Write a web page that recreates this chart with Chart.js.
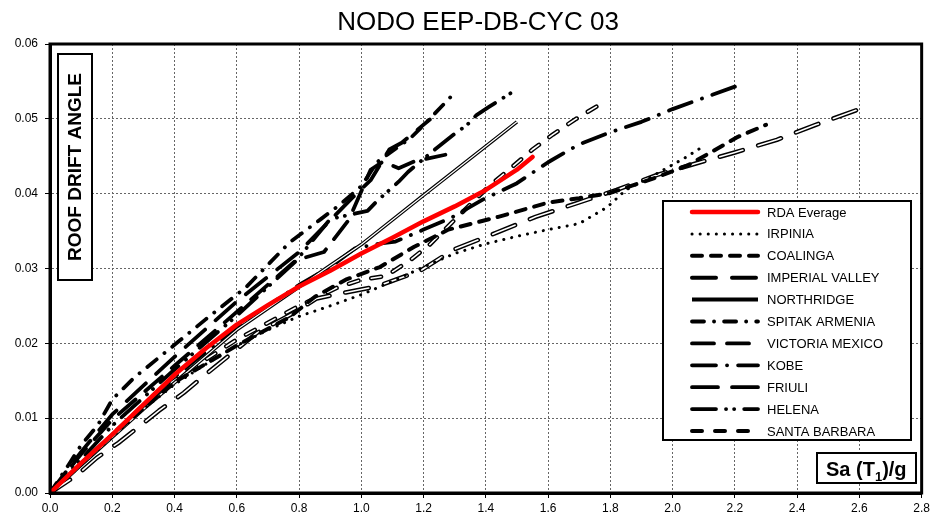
<!DOCTYPE html>
<html>
<head>
<meta charset="utf-8">
<script src="https://cdn.jsdelivr.net/npm/chart.js@4.4.1/dist/chart.umd.min.js"></script>
<style>
  html, body { margin: 0; padding: 0; background: #fff; }
  #wrap { width: 933px; height: 515px; }
</style>
</head>
<body>
<div id="wrap"><canvas id="chart" width="933" height="515"></canvas></div>
<script>
// Sa(T1)/g on x, roof drift angle on y, one pair of arrays per record
const seriesNames = ['RDA Everage', 'IRPINIA', 'COALINGA', 'IMPERIAL VALLEY', 'NORTHRIDGE',
    'SPITAK ARMENIA', 'VICTORIA MEXICO', 'KOBE', 'FRIULI', 'HELENA', 'SANTA BARBARA'];

const rdaX = [0, 0.1, 0.2, 0.3, 0.4, 0.5, 0.6, 0.7, 0.8, 0.9, 1.0, 1.1, 1.2, 1.3, 1.4, 1.5, 1.55];
const rdaY = [0, 0.004, 0.0078, 0.0118, 0.0158, 0.0193, 0.0225, 0.0251, 0.0276, 0.0297, 0.032, 0.0341, 0.0363, 0.0383, 0.0405, 0.0432, 0.0449];

const irpiniaX = [0, 0.1, 0.2, 0.3, 0.4, 0.5, 0.6, 0.7, 0.8, 0.9, 1.0, 1.1, 1.2, 1.3, 1.4, 1.5, 1.6, 1.7, 1.79, 1.85, 1.92, 1.98, 2.04, 2.09];
const irpiniaY = [0, 0.0038, 0.0075, 0.0112, 0.0145, 0.0172, 0.0197, 0.0218, 0.0236, 0.025, 0.0265, 0.0283, 0.0302, 0.032, 0.0333, 0.0343, 0.0352, 0.036, 0.0382, 0.0405, 0.042, 0.0434, 0.0448, 0.0461];

const coalingaX = [0, 0.2, 0.4, 0.6, 0.77, 0.85, 0.95, 1.06, 1.17, 1.28, 1.44, 1.6, 1.7, 1.8, 1.95, 2.05, 2.21, 2.3];
const coalingaY = [0, 0.0078, 0.0148, 0.0197, 0.0235, 0.0262, 0.0285, 0.0302, 0.0329, 0.0352, 0.0369, 0.0388, 0.0394, 0.0401, 0.0422, 0.0438, 0.0476, 0.0492];

const imperialX = [0, 0.087, 0.15, 0.22, 0.29, 0.35, 0.43, 0.49, 0.57, 0.665, 0.78, 0.857, 0.95, 1.05, 1.19, 1.295, 1.435, 1.56, 1.69, 1.82, 1.95, 2.08, 2.2, 2.335, 2.46, 2.6];
const imperialY = [0, 0.0024, 0.0047, 0.0067, 0.009, 0.011, 0.0134, 0.0155, 0.0182, 0.0214, 0.024, 0.026, 0.0268, 0.0276, 0.0297, 0.0325, 0.0348, 0.0369, 0.0387, 0.0405, 0.0425, 0.0441, 0.0455, 0.0472, 0.0492, 0.0513];

const northridgeX = [0, 0.3, 0.6, 0.9, 1.0, 1.2, 1.5];
const northridgeY = [0, 0.0112, 0.0218, 0.0304, 0.0332, 0.0398, 0.0496];

const spitakX = [0, 0.065, 0.1, 0.154, 0.2, 0.27, 0.4, 0.5, 0.63, 0.77, 0.87, 0.93, 1.0, 1.05, 1.16, 1.22, 1.3];
const spitakY = [0, 0.0041, 0.0064, 0.0091, 0.0125, 0.0154, 0.0198, 0.0232, 0.0275, 0.0335, 0.0366, 0.0385, 0.041, 0.0442, 0.0475, 0.05, 0.0535];

const victoriaX = [0, 0.1, 0.2, 0.4, 0.6, 0.79, 0.88, 0.96, 1.03, 1.07, 1.12, 1.17, 1.27];
const victoriaY = [0, 0.0052, 0.0098, 0.017, 0.0242, 0.0311, 0.0322, 0.0365, 0.0432, 0.0443, 0.0434, 0.0443, 0.0452];

const kobeX = [0, 0.2, 0.4, 0.6, 0.8, 0.9, 0.98, 1.07, 1.11, 1.2, 1.29, 1.39, 1.5, 1.6, 1.7, 1.8, 1.9, 2.0, 2.1, 2.2];
const kobeY = [0, 0.0078, 0.0155, 0.0222, 0.0278, 0.0302, 0.0327, 0.0334, 0.0336, 0.0352, 0.0368, 0.0392, 0.0414, 0.0442, 0.0466, 0.0482, 0.0496, 0.0513, 0.0528, 0.0543];

const friuliX = [0, 0.1, 0.2, 0.4, 0.6, 0.8, 0.97, 1.03, 1.09, 1.13, 1.22];
const friuliY = [0, 0.0055, 0.0105, 0.0182, 0.0256, 0.0322, 0.0394, 0.0418, 0.0459, 0.0468, 0.0499];

const helenaX = [0, 0.1, 0.2, 0.4, 0.6, 0.79, 0.9, 1.02, 1.05, 1.12, 1.15, 1.23, 1.3, 1.34, 1.37, 1.41, 1.49];
const helenaY = [0, 0.0045, 0.009, 0.0165, 0.0237, 0.031, 0.0366, 0.0377, 0.039, 0.0416, 0.0429, 0.0457, 0.048, 0.0492, 0.0505, 0.0516, 0.0537];

const santaBarbaraX = [0, 0.15, 0.34, 0.44, 0.6, 0.8, 0.92, 1.0, 1.08, 1.16, 1.22, 1.29, 1.41, 1.48, 1.55, 1.615, 1.686, 1.77];
const santaBarbaraY = [0, 0.0058, 0.0133, 0.0162, 0.0205, 0.025, 0.0274, 0.0285, 0.029, 0.0312, 0.0332, 0.0361, 0.041, 0.0434, 0.0459, 0.0479, 0.0499, 0.052];

const xTicks = [0, 2.8, 0.2];     // min, max, step
const yTicks = [0, 0.06, 0.01];

const seriesX = [rdaX, irpiniaX, coalingaX, imperialX, northridgeX, spitakX, victoriaX, kobeX, friuliX, helenaX, santaBarbaraX];
const seriesY = [rdaY, irpiniaY, coalingaY, imperialY, northridgeY, spitakY, victoriaY, kobeY, friuliY, helenaY, santaBarbaraY];

// line looks, roughly like the Excel styles
const looks = [
    { color: '#ff0000', width: 4.5, dash: [], cap: 'round' },
    { color: '#000', width: 3, dash: [0.1, 8], cap: 'round' },
    { color: '#000', width: 4, dash: [10, 9], cap: 'round' },
    { color: '#000', width: 4.5, dash: [24, 16], cap: 'round', hollow: 1.6 },
    { color: '#000', width: 3.6, dash: [], cap: 'butt', hollow: 1.2 },
    { color: '#000', width: 3.8, dash: [12, 10, 0.1, 10], cap: 'round' },
    { color: '#000', width: 3.8, dash: [22, 13], cap: 'round' },
    { color: '#000', width: 3.8, dash: [24, 11, 0.1, 11], cap: 'round' },
    { color: '#000', width: 3.8, dash: [26, 14], cap: 'round' },
    { color: '#000', width: 3.8, dash: [24, 10, 0.1, 8, 0.1, 10], cap: 'round' },
    { color: '#000', width: 4.5, dash: [10, 13], cap: 'round', hollow: 1.6 }
];

const FONT = '"Liberation Sans", Arial, sans-serif';

function points(i) {
    return seriesX[i].map((x, k) => ({ x: x, y: seriesY[i][k] }));
}

const datasets = [];
seriesNames.forEach((name, i) => {
    const s = looks[i];
    datasets.push({
        label: name,
        data: points(i),
        borderColor: s.color,
        borderWidth: s.width,
        borderDash: s.dash,
        borderCapStyle: s.cap,
        borderJoinStyle: 'round',
        pointRadius: 0,
        tension: 0,
        fill: false,
        order: i * 2
    });
    if (s.hollow) {
        // white core drawn over the black stroke gives the double line
        datasets.push({
            label: name + ' core',
            data: points(i),
            borderColor: '#fff',
            borderWidth: s.hollow,
            borderDash: s.dash,
            borderCapStyle: s.cap,
            borderJoinStyle: 'round',
            pointRadius: 0,
            tension: 0,
            fill: false,
            order: i * 2 - 1
        });
    }
});

const decorations = {
    id: 'decorations',
    afterDraw(chart) {
        const ctx = chart.ctx;
        const a = chart.chartArea;
        ctx.save();

        // plot frame
        ctx.setLineDash([]);
        ctx.lineWidth = 3;
        ctx.strokeStyle = '#000';
        ctx.strokeRect(a.left, a.top, a.right - a.left, a.bottom - a.top);

        // title
        ctx.fillStyle = '#000';
        ctx.font = '26px ' + FONT;
        ctx.textAlign = 'center';
        ctx.textBaseline = 'middle';
        ctx.fillText('NODO EEP-DB-CYC 03', 478, 23);

        // y title box
        ctx.fillStyle = '#fff';
        ctx.fillRect(58, 54, 34, 226);
        ctx.lineWidth = 2;
        ctx.strokeRect(58, 54, 34, 226);
        ctx.save();
        ctx.translate(76, 167);
        ctx.rotate(-Math.PI / 2);
        ctx.fillStyle = '#000';
        ctx.font = 'bold 19px ' + FONT;
        ctx.fillText('ROOF DRIFT ANGLE', 0, 0);
        ctx.restore();

        // x title box
        ctx.fillStyle = '#fff';
        ctx.fillRect(817, 453, 99, 30);
        ctx.strokeRect(817, 453, 99, 30);
        ctx.fillStyle = '#000';
        ctx.textAlign = 'left';
        ctx.textBaseline = 'alphabetic';
        let tx = 826;
        ctx.font = 'bold 20px ' + FONT;
        ctx.fillText('Sa (T', tx, 476);
        tx += ctx.measureText('Sa (T').width;
        ctx.font = 'bold 13px ' + FONT;
        ctx.fillText('1', tx, 481);
        tx += ctx.measureText('1').width;
        ctx.font = 'bold 20px ' + FONT;
        ctx.fillText(')/g', tx, 476);

        // legend
        const lx = 663, ly = 201, lw = 248, lh = 239;
        ctx.fillStyle = '#fff';
        ctx.fillRect(lx, ly, lw, lh);
        ctx.lineWidth = 2;
        ctx.strokeRect(lx, ly, lw, lh);
        ctx.font = '13px ' + FONT;
        ctx.textBaseline = 'middle';
        seriesNames.forEach((name, i) => {
            const s = looks[i];
            const y = 212 + i * 21.9;
            ctx.beginPath();
            ctx.strokeStyle = s.color;
            ctx.lineWidth = s.hollow ? 4 : s.width;
            ctx.lineCap = s.cap;
            ctx.setLineDash(s.dash);
            ctx.moveTo(692, y);
            ctx.lineTo(758, y);
            ctx.stroke();
            ctx.setLineDash([]);
            ctx.fillStyle = '#000';
            ctx.fillText(name, 767, y + 1);
        });
        ctx.restore();
    }
};

new Chart(document.getElementById('chart'), {
    type: 'line',
    data: { datasets: datasets },
    options: {
        responsive: false,
        devicePixelRatio: 1,
        animation: false,
        layout: { padding: { top: 44, right: 11, left: 0, bottom: 0 } },
        plugins: {
            legend: { display: false },
            title: { display: false },
            tooltip: { enabled: false }
        },
        scales: {
            x: {
                type: 'linear',
                min: xTicks[0],
                max: xTicks[1],
                ticks: {
                    stepSize: xTicks[2],
                    color: '#000',
                    font: { family: FONT, size: 12 },
                    padding: 3,
                    maxRotation: 0,
                    callback: v => v.toFixed(1)
                },
                grid: { color: '#666', lineWidth: 1, tickColor: '#000', tickLength: 5 },
                border: { display: true, color: '#000', width: 3, dash: [2, 2] },
                afterFit: scale => { scale.height = 22; }
            },
            y: {
                type: 'linear',
                min: yTicks[0],
                max: yTicks[1],
                ticks: {
                    stepSize: yTicks[2],
                    color: '#000',
                    font: { family: FONT, size: 12 },
                    padding: 7,
                    callback: v => v.toFixed(2)
                },
                grid: { color: '#666', lineWidth: 1, tickColor: '#000', tickLength: 5 },
                border: { display: true, color: '#000', width: 3, dash: [2, 2] },
                afterFit: scale => { scale.width = 50; }
            }
        }
    },
    plugins: [decorations]
});
</script>
</body>
</html>
